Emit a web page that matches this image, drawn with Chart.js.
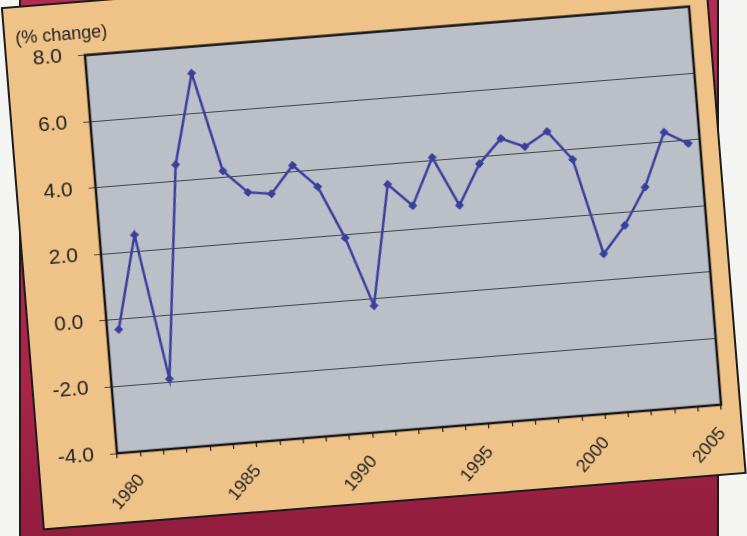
<!DOCTYPE html>
<html>
<head>
<meta charset="utf-8">
<script src="https://cdn.jsdelivr.net/npm/chart.js"></script>
<style>
  html, body { margin: 0; padding: 0; }
  body { width: 747px; height: 536px; overflow: hidden; background: #f4f4f2; position: relative; }
  #backing {
    position: absolute; left: 21px; top: -20px; width: 696px; height: 580px;
    background: linear-gradient(180deg, #b42c53 0%, #a82549 70%, #8e1c3d 100%);
    box-shadow: 0 0 0 2px #1c1c1c;
  }
  #card {
    position: absolute; left: 3px; top: 9px; width: 702px; height: 521px;
    transform-origin: 0 0; transform: rotate(-4.6deg);
    background: #efc387;
    box-shadow: 0 0 0 2px #1c1c1c;
  }
  #card canvas { display: block; }
</style>
</head>
<body>
<div id="backing"></div>
<div id="card"><canvas id="growthChart" width="702" height="521"></canvas></div>
<script>
const years = ['1980', '1981', '1982', '1983', '1984', '1985', '1986', '1987', '1988', '1989',
  '1990', '1991', '1992', '1993', '1994', '1995', '1996', '1997', '1998', '1999',
  '2000', '2001', '2002', '2003', '2004', '2005'];
const pctChange = [-0.3, 2.5, -1.9, 4.5, 7.2, 4.2, 3.5, 3.4, 4.2, 3.5,
  1.9, -0.2, 3.4, 2.7, 4.1, 2.6, 3.8, 4.5, 4.2, 4.6,
  3.7, 0.8, 1.6, 2.7, 4.3, 3.9];
const yMin = -4;
const yMax = 8;
const yStep = 2;
const labelEvery = 5;
const unitLabel = '(% change)';

const font = '"Liberation Sans", Arial, sans-serif';
const ink = '#222222';

// gray plot area + black frame, like the old spreadsheet chart
const plotFrame = {
  id: 'plotFrame',
  beforeDraw(chart) {
    const { ctx, chartArea: a } = chart;
    ctx.save();
    ctx.fillStyle = '#bbbfc8';
    ctx.fillRect(a.left, a.top, a.right - a.left, a.bottom - a.top);
    ctx.restore();
  },
  afterDraw(chart) {
    const { ctx, chartArea: a } = chart;
    ctx.save();
    ctx.strokeStyle = '#151515';
    ctx.lineWidth = 2.5;
    ctx.strokeRect(a.left, a.top, a.right - a.left, a.bottom - a.top);
    ctx.restore();
  }
};

const ctx = document.getElementById('growthChart').getContext('2d');
const chart = new Chart(ctx, {
  type: 'line',
  data: {
    labels: years,
    datasets: [{
      label: 'Change',
      data: pctChange,
      borderColor: '#3b3e9c',
      backgroundColor: '#3b3e9c',
      borderWidth: 2.5,
      tension: 0,
      pointStyle: 'rectRot',
      pointRadius: 4,
      pointBorderWidth: 1
    }]
  },
  options: {
    responsive: false,
    animation: false,
    layout: { padding: { left: 10, right: 18, top: 0, bottom: 0 } },
    plugins: {
      legend: { display: false },
      tooltip: { enabled: false },
      title: {
        display: true,
        text: unitLabel,
        align: 'start',
        color: ink,
        font: { family: font, size: 18, weight: 'normal', lineHeight: 1.2 },
        padding: { top: 20, bottom: 11 }
      }
    },
    scales: {
      x: {
        type: 'category',
        offset: true,
        border: { display: false },
        grid: {
          offset: true,
          drawOnChartArea: false,
          drawTicks: true,
          tickLength: 5,
          color: '#222',
          lineWidth: 1.2
        },
        ticks: {
          autoSkip: false,
          minRotation: 45,
          maxRotation: 45,
          labelOffset: 11,
          padding: 13,
          color: ink,
          font: { family: font, size: 18 },
          callback: function (val, i) {
            return i % labelEvery === 0 ? this.getLabelForValue(val) : '';
          }
        },
        afterFit: (scale) => { scale.height = 69; }
      },
      y: {
        min: yMin,
        max: yMax,
        border: { display: false },
        grid: {
          color: '#444',
          lineWidth: 1,
          drawTicks: true,
          tickLength: 7
        },
        ticks: {
          stepSize: yStep,
          padding: 16,
          color: ink,
          font: { family: font, size: 21 },
          callback: (v) => v.toFixed(1)
        },
        afterFit: (scale) => { scale.width = 68; }
      }
    }
  },
  plugins: [plotFrame]
});
</script>
</body>
</html>
